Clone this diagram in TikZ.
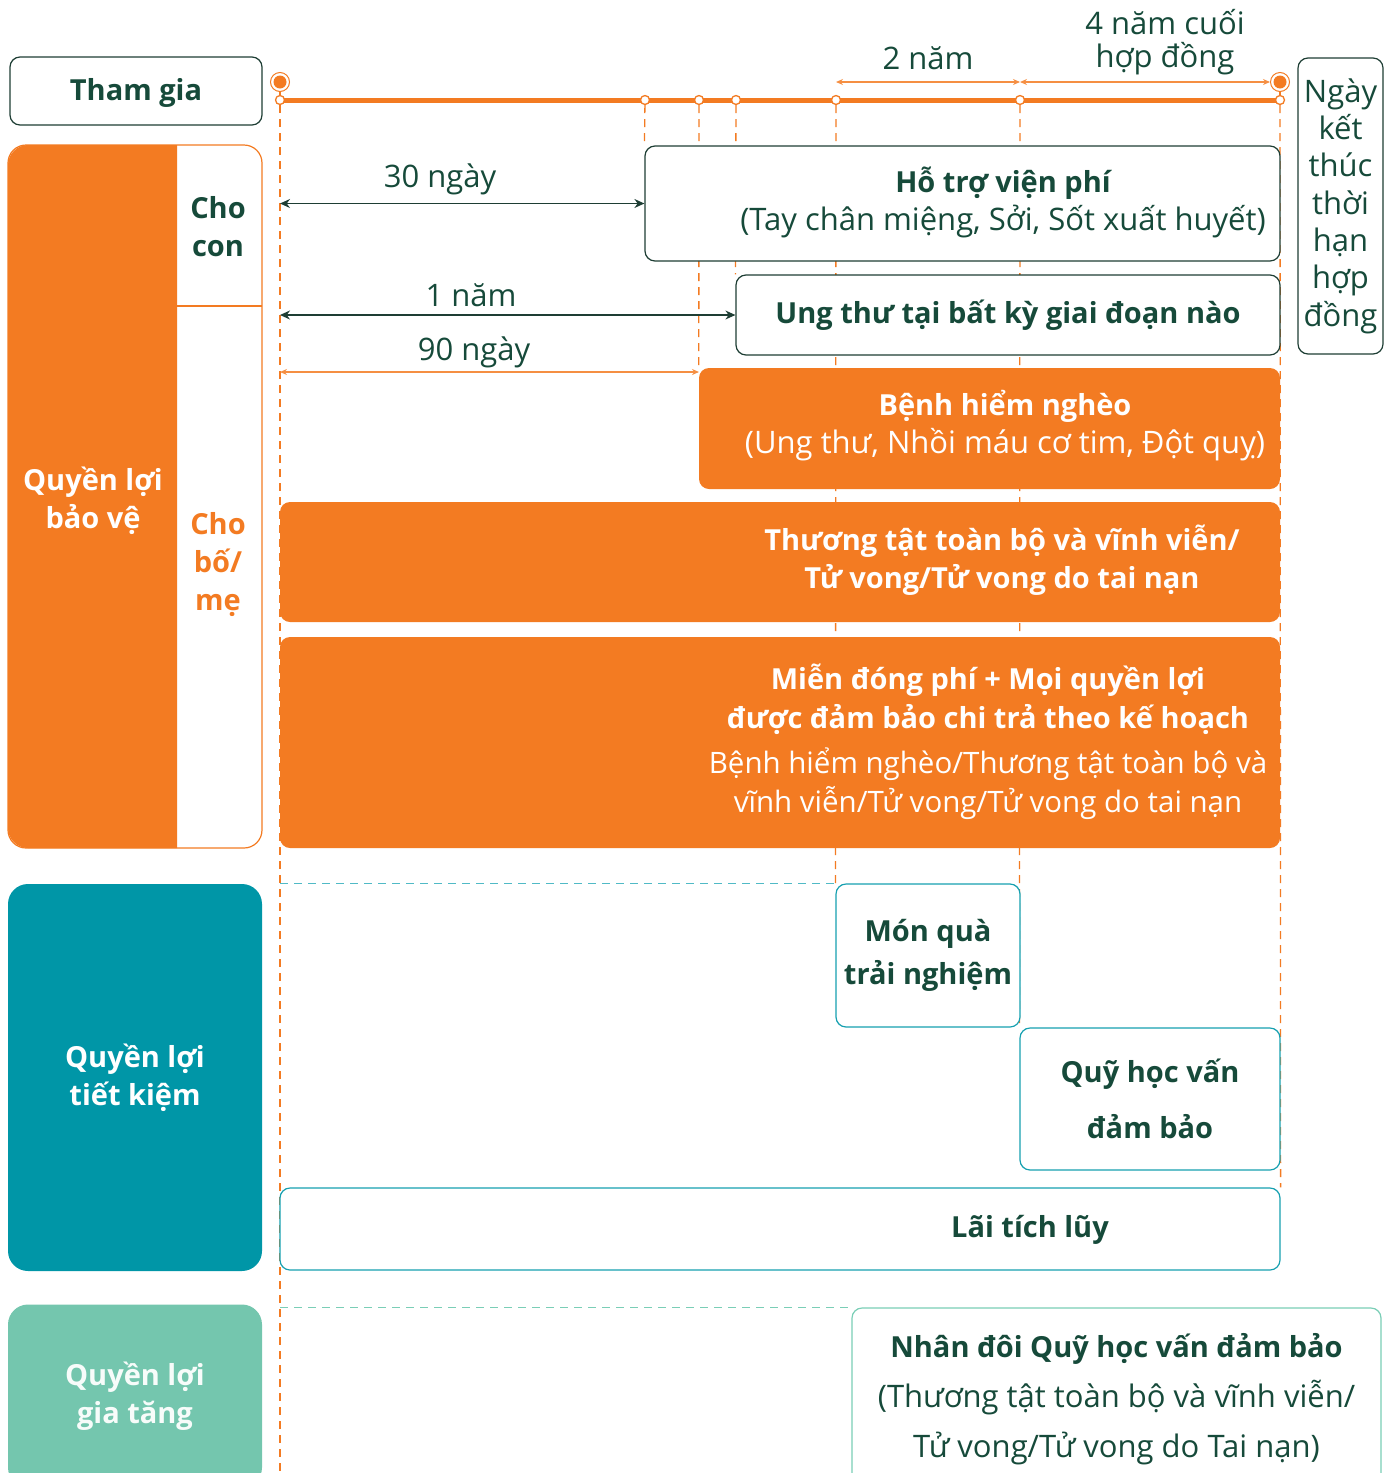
\documentclass[tikz,border=0pt]{standalone}
\usepackage{fontspec}
\setmainfont{Open Sans}
\usetikzlibrary{arrows.meta,backgrounds}
\definecolor{orgc}{RGB}{243,123,34}
\definecolor{dkgreen}{RGB}{22,74,58}
\definecolor{dkline}{RGB}{30,62,52}
\definecolor{tealc}{RGB}{0,150,167}
\definecolor{tealline}{RGB}{22,160,176}
\definecolor{tealdash}{RGB}{80,186,198}
\definecolor{mintc}{RGB}{116,198,174}
\definecolor{mintline}{RGB}{122,206,182}
\newcommand\boldline{\fontsize{29}{38}\selectfont\bfseries}
\begin{document}
\begin{tikzpicture}[x=1pt, y=-1pt,
  box/.style={rectangle, rounded corners=10pt, inner sep=0pt, align=center},
  linebox/.style={box, draw=dkline, line width=1.2pt, fill=white},
  orgbox/.style={box, fill=orgc},
  tealbox/.style={box, draw=tealline, line width=1.2pt, fill=white},
  txt/.style={align=center, inner sep=0pt, text=dkgreen, font=\fontsize{31}{38}\selectfont},
  btxt/.style={txt, font=\boldline},
  wtxt/.style={txt, text=white},
  tick/.style={circle, draw=orgc, fill=white, line width=1.3pt, minimum size=9pt, inner sep=0pt},
  bigdot/.style={circle, draw=orgc, fill=white, line width=1pt, minimum size=19pt, inner sep=0pt},
  span/.style={{Stealth[length=10pt,width=9pt]}-{Stealth[length=10pt,width=9pt]}, dkline, line width=1.3pt},
  ospan/.style={{Stealth[length=7pt,width=6pt]}-{Stealth[length=7pt,width=6pt]}, orgc!85, line width=1.2pt},
  vdash/.style={orgc, line width=1.3pt, dash pattern=on 8pt off 6pt}
]
  \useasboundingbox (0,0) rectangle (1384,1473);

  % Timeline
  \foreach \x [count=\i from 0] in {280,645,699,736,836,1020,1280}
    \coordinate (t\i) at (\x,100);
  \draw[orgc, line width=5pt] (t0) -- (t6);
  \foreach \i in {0,...,6}
    \node[tick] (tk\i) at (t\i) {};
  \node[bigdot] (startdot) at (280,82) {};
  \node[bigdot] (enddot) at (1280,82) {};
  \fill[orgc] (startdot) circle (6.5pt);
  \fill[orgc] (enddot) circle (6.5pt);
  \draw[orgc, line width=1.3pt] (startdot) -- (tk0);
  \draw[orgc, line width=1.3pt] (enddot) -- (tk6);

  % Left column
  \node[linebox, minimum width=252pt, minimum height=68pt] (thamgia) at (136,91) {};
  \node[btxt] (thamgiatxt) at (136,93) {Tham gia};

  \draw[orgc, line width=1.2pt, fill=white, rounded corners=18pt] (8,145) rectangle (262,848);
  \begin{scope}
    \clip (0,140) rectangle (177,855);
    \fill[orgc, rounded corners=20pt] (8,145) rectangle (240,848);
  \end{scope}
  \draw[orgc, line width=1.2pt] (177,306) -- (262,306);
  \node[wtxt, font=\boldline] (baove) at (93,501) {Quyền lợi\\bảo vệ};
  \node[btxt] (chocon) at (218,227) {Cho\\con};
  \node[btxt, text=orgc] (chobome) at (218,565) {Cho\\bố/\\mẹ};

  \node[box, rounded corners=20pt, fill=tealc, minimum width=254pt, minimum height=387pt,
        wtxt, font=\boldline] (tietkiem) at (135,1077.5) {Quyền lợi\\tiết kiệm};
  \node[box, rounded corners=20pt, fill=mintc, minimum width=254pt, minimum height=183pt,
        wtxt, text=white!94!mintc, font=\boldline] (giatang) at (135,1396) {Quyền lợi\\gia tăng};

  % Right column
  \node[linebox, txt, minimum width=85pt, minimum height=296pt, font=\fontsize{31}{37.3}\selectfont] (ketthuc) at (1340.5,206)
    {Ngày\\kết\\thúc\\thời\\hạn\\hợp\\đồng};

  % Benefit boxes
  \node[linebox, minimum width=635pt, minimum height=115pt] (hotro) at (962.5,203.5) {};
  \node[txt] (hotrotxt) at (1003,202) {{\boldline Hỗ trợ viện phí}\\(Tay chân miệng, Sởi, Sốt xuất huyết)};
  \node[linebox, btxt, minimum width=544pt, minimum height=80pt] (ungthu) at (1008,315) {Ung thư tại bất kỳ giai đoạn nào};
  \node[orgbox, minimum width=581pt, minimum height=121pt] (benh) at (989.5,428.5) {};
  \node[wtxt] (benhtxt) at (1005,426) {{\boldline Bệnh hiểm nghèo}\\(Ung thư, Nhồi máu cơ tim, Đột quỵ)};
  \node[orgbox, minimum width=1000pt, minimum height=120pt] (thuong) at (780,562) {};
  \node[wtxt, font=\boldline] (thuongtxt) at (1002,560) {Thương tật toàn bộ và vĩnh viễn/\\Tử vong/Tử vong do tai nạn};
  \node[orgbox, minimum width=1000pt, minimum height=211pt] (mien) at (780,742.5) {};
  \node[wtxt, font=\fontsize{29.5}{39}\selectfont] (mientxt) at (988,742) {{\boldline Miễn đóng phí + Mọi quyền lợi}\\{\boldline được đảm bảo chi trả theo kế hoạch}\\[6pt]
    Bệnh hiểm nghèo/Thương tật toàn bộ và\\vĩnh viễn/Tử vong/Tử vong do tai nạn};

  \node[tealbox, btxt, minimum width=184pt, minimum height=143pt] (monqua) at (928,955.5) {Món quà\\[5pt]trải nghiệm};
  \node[tealbox, btxt, minimum width=260pt, minimum height=142pt] (quy) at (1150,1099) {Quỹ học vấn\\[18pt]đảm bảo};
  \node[tealbox, minimum width=1000pt, minimum height=82pt] (lai) at (780,1229) {};
  \node[btxt] (laitxt) at (1030,1230) {Lãi tích lũy};
  \node[box, draw=mintline, line width=1.2pt, fill=white, minimum width=529pt, minimum height=182pt, txt] (nhandoi) at (1116.5,1399)
    {{\boldline Nhân đôi Quỹ học vấn đảm bảo}\\[12pt](Thương tật toàn bộ và vĩnh viễn/\\[12pt]Tử vong/Tử vong do Tai nạn)};

  % Guide lines (behind)
  \begin{pgfonlayer}{background}
    \draw[vdash] (tk0) -- (t0 |- 0,1473);
    \draw[vdash] (tk1) -- (hotro.north west);
    \draw[vdash] (tk2) -- (benh.north west);
    \draw[vdash] (tk3) -- (ungthu.north west);
    \draw[vdash] (tk4) -- (monqua.north west);
    \draw[vdash] (tk5) -- (quy.north west);
    \draw[vdash] (tk6) -- (lai.north east);
    \draw[tealdash, line width=1.4pt, dash pattern=on 8pt off 6pt] (t0 |- monqua.north) -- (monqua.north west);
    \draw[mintline, line width=1.4pt, dash pattern=on 8pt off 6pt] (t0 |- nhandoi.north) -- (nhandoi.north west);
  \end{pgfonlayer}

  % Spans
  \coordinate (d90) at (699,372);
  \draw[span] (t0 |- hotro.west) -- (hotro.west);
  \draw[span] (t0 |- ungthu.west) -- (ungthu.west);
  \draw[ospan] (t0 |- d90) -- (d90);
  \draw[ospan] (t4 |- enddot) -- (t5 |- enddot);
  \draw[ospan] (t5 |- enddot) -- (enddot.west);
  \node[txt] (l30) at (440,179) {30 ngày};
  \node[txt] (l1n) at (471,295) {1 năm};
  \node[txt] (l90) at (474,352) {90 ngày};
  \node[txt] (l2n) at (928,58) {2 năm};
  \node[txt] (l4n) at (1165,42) {4 năm cuối\\[-5pt]hợp đồng};
\end{tikzpicture}
\end{document}
